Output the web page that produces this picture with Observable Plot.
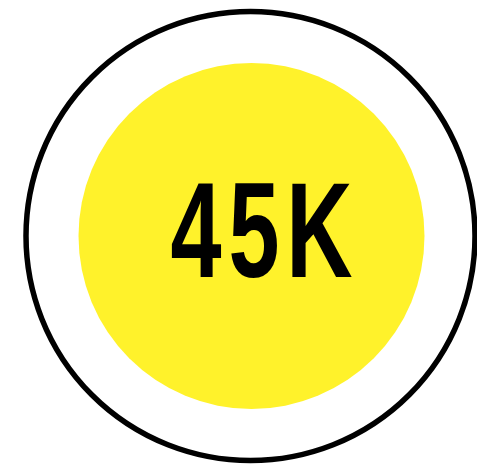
<!DOCTYPE html>
<html>
<head>
<meta charset="utf-8">
<script src="https://cdn.jsdelivr.net/npm/d3@7"></script>
<script src="https://cdn.jsdelivr.net/npm/@observablehq/plot@0.6"></script>
<style>
  html, body { margin: 0; padding: 0; background: #fff; }
</style>
</head>
<body>
<div id="chart"></div>
<script>
const metricNames = ["Total"];
const metricValues = [45000];
const metricLabels = ["45K"];

const data = metricNames.map((name, i) => ({name, value: metricValues[i], label: metricLabels[i]}));

const W = 477, H = 466;
const textX = 264.5, textY = 233.5, squeeze = 0.68, spacing = 10;

const chart = Plot.plot({
  width: W,
  height: H,
  margin: 0,
  x: {type: "linear", domain: [0, W], range: [0, W], axis: null},
  y: {type: "linear", domain: [0, H], range: [0, H], axis: null},
  r: {type: "identity"},
  marks: [
    Plot.dot(data, {x: () => 250, y: () => 235.5, r: () => 224.5, fill: "none", stroke: "#000", strokeWidth: 5.5}),
    Plot.dot(data, {x: () => 251, y: () => 235.5, r: () => 173, fill: "#fff22b", stroke: "none"}),
    Plot.text(data, {
      x: () => textX, y: () => textY, text: "label",
      fontFamily: "Liberation Sans, Arial, sans-serif", fontWeight: "bold", fontSize: 135,
      fill: "#000", textAnchor: "middle", lineAnchor: "middle",
      render(index, scales, values, dimensions, context, next) {
        const g = next(index, scales, values, dimensions, context);
        d3.select(g).selectAll("text").each(function () {
          const t = d3.select(this);
          const x = +t.attr("x") || 0, y = +t.attr("y") || 0;
          const prev = t.attr("transform") || "";
          t.attr("letter-spacing", spacing);
          t.attr("transform", `${prev} translate(${x},${y}) scale(${squeeze},1) translate(${-x},${-y})`);
        });
        return g;
      }
    })
  ]
});
chart.style.background = "#fff";
document.getElementById("chart").appendChild(chart);
</script>
</body>
</html>
